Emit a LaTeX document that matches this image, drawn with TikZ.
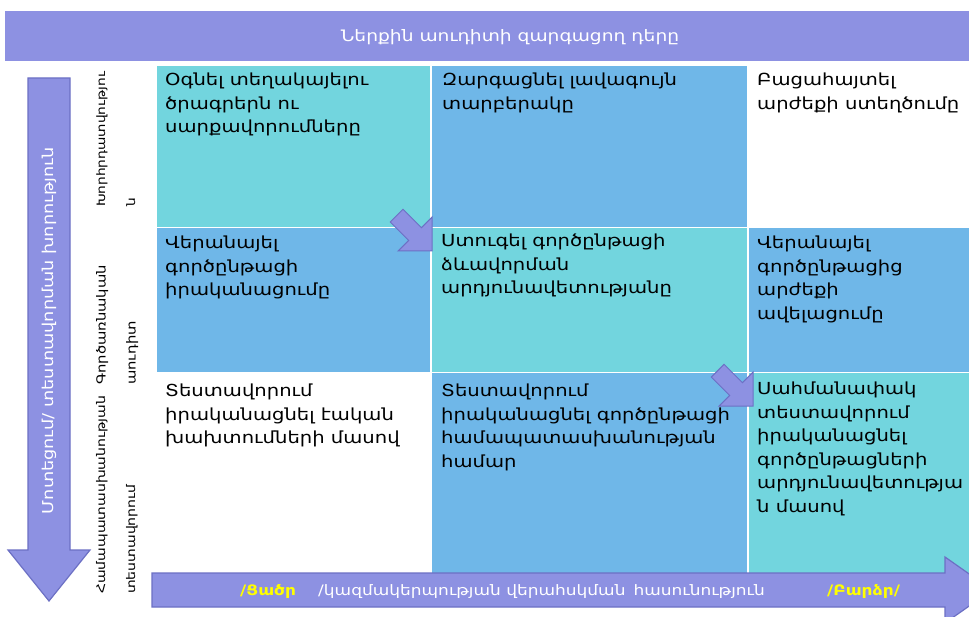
\documentclass[tikz,border=0pt]{standalone}
\usepackage{fontspec}
\setmainfont[FakeStretch=1.18]{DejaVu Sans}
\definecolor{purp}{RGB}{141,145,226}
\definecolor{purpdark}{RGB}{108,112,196}
\definecolor{tealc}{RGB}{114,213,222}
\definecolor{bluec}{RGB}{111,183,232}
\definecolor{yel}{RGB}{255,255,0}
\newcommand{\cellfnt}{\fontsize{16.6}{23.5}\selectfont}
\newcommand{\arrfnt}{\fontsize{14.4}{17}\selectfont}
\begin{document}
\begin{tikzpicture}[x=1pt,y=-1pt,
  cell/.style={anchor=north west, draw=white, line width=1.5pt, inner sep=0pt},
  celltext/.style={anchor=north west, align=left, inner sep=0pt, font=\cellfnt, text=black},
  rowlbl/.style={rotate=90, anchor=north west, align=left, inner sep=0pt, text=black},
  bigarrow/.style={fill=purp, draw=purpdark, line width=1.2pt, line join=miter},
  whitetext/.style={text=white, inner sep=0pt},
  yeltext/.style={text=yel, inner sep=0pt, font=\arrfnt\bfseries, anchor=base west},
]
\useasboundingbox (0,0) rectangle (969,617);
\clip (0,0) rectangle (969,617);
\fill[white] (0,0) rectangle (969,617);

% banner
\node[fill=purp, minimum width=964pt, minimum height=50pt, inner sep=0pt, anchor=north west] (banner) at (5,11) {};
\node[whitetext, font=\fontsize{15.8}{18}\selectfont] (bannerlbl) at (510,37) {Ներքին աուդիտի զարգացող դերը};

% cells
\node[cell, fill=tealc, minimum width=275pt, minimum height=162pt] (c11) at (155,65) {};
\node[cell, fill=bluec, minimum width=317pt, minimum height=162pt] (c12) at (430,65) {};
\node[cell, fill=white, minimum width=225pt, minimum height=162pt] (c13) at (747,65) {};
\node[cell, fill=bluec, minimum width=275pt, minimum height=145pt] (c21) at (155,227) {};
\node[cell, fill=tealc, minimum width=317pt, minimum height=145pt] (c22) at (430,227) {};
\node[cell, fill=bluec, minimum width=225pt, minimum height=145pt] (c23) at (747,227) {};
\node[cell, fill=white, minimum width=275pt, minimum height=210pt] (c31) at (155,372) {};
\node[cell, fill=bluec, minimum width=317pt, minimum height=210pt] (c32) at (430,372) {};
\node[cell, fill=tealc, minimum width=225pt, minimum height=210pt] (c33) at (747,372) {};

% cell texts
\node[celltext] (t11) at (165,73) {Օգնել տեղակայելու\\ծրագրերն ու\\սարքավորումները};
\node[celltext] (t12) at (442,73) {Զարգացնել լավագույն\\տարբերակը};
\node[celltext] (t13) at (757,73) {Բացահայտել\\արժեքի ստեղծումը};
\node[celltext] (t21) at (165,236) {Վերանայել\\գործընթացի\\իրականացումը};
\node[celltext] (t22) at (441,234) {Ստուգել գործընթացի\\ձևավորման\\արդյունավետությանը};
\node[celltext] (t23) at (757,236) {Վերանայել\\գործընթացից\\արժեքի\\ավելացումը};
\node[celltext] (t31) at (165,384) {Տեստավորում\\իրականացնել էական\\խախտումների մասով};
\node[celltext] (t32) at (441,384) {Տեստավորում\\իրականացնել գործընթացի\\համապատասխանության\\համար};
\node[celltext] (t33) at (757,382) {Սահմանափակ\\տեստավորում\\իրականացնել\\գործընթացների\\արդյունավետությա\\ն մասով};

% row labels
\node[rowlbl, font=\fontsize{11.6}{30}\selectfont] (r1) at (96,207) {Խորհրդատվությու\\ն};
\node[rowlbl, font=\fontsize{12.5}{30}\selectfont] (r2) at (96,385) {Գործառնական\\աուդիտ};
\node[rowlbl, font=\fontsize{11.9}{30}\selectfont] (r3) at (96,594) {Համապատասխանության\\տեստավորում};

% small diagonal arrows
\begin{scope}[shift={(432,251)}, rotate=-45]
  \draw[bigarrow, line width=1pt] (0,0) -- (-24,24) -- (-24,9) -- (-50,9) -- (-50,-9) -- (-24,-9) -- (-24,-24) -- cycle;
\end{scope}
\begin{scope}[shift={(753,406)}, rotate=-45]
  \draw[bigarrow, line width=1pt] (0,0) -- (-24,24) -- (-24,9) -- (-50,9) -- (-50,-9) -- (-24,-9) -- (-24,-24) -- cycle;
\end{scope}

% left arrow
\draw[bigarrow] (28,78) -- (70,78) -- (70,550) -- (90,550) -- (49,601) -- (8,550) -- (28,550) -- cycle;
\node[whitetext, rotate=90, font=\fontsize{15}{17}\selectfont] (leftlbl) at (49,331) {Մոտեցում/ տեստավորման խորություն};

% bottom arrow
\draw[bigarrow] (152,573) -- (945,573) -- (945,557) -- (992,590) -- (945,623) -- (945,607) -- (152,607) -- cycle;
\node[yeltext] (lowlbl1) at (240,595) {/Ցածր};
\node[whitetext, font=\arrfnt, anchor=base west] (lowlbl) at (318,595) {/կազմակերպության վերահսկման\hspace{8pt}հասունություն};
\node[yeltext] (lowlbl2) at (827,595) {/Բարձր/};
\end{tikzpicture}
\end{document}
